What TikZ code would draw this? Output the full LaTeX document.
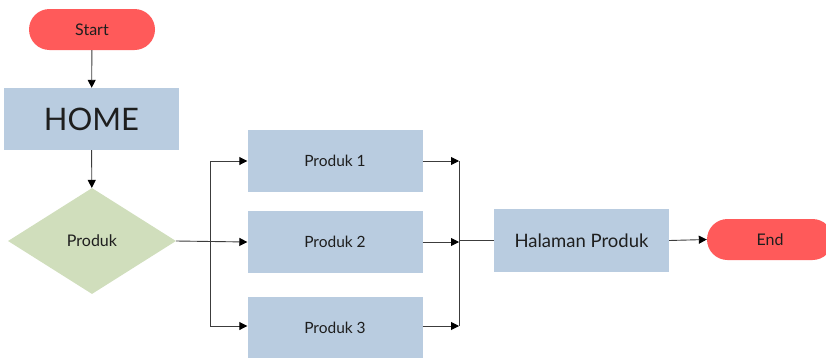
\documentclass[tikz,border=0pt]{standalone}
\usepackage{fontspec}
\setmainfont{Lato}
\usetikzlibrary{arrows.meta,shapes.geometric}
\definecolor{pillred}{RGB}{255,90,90}
\definecolor{boxblue}{RGB}{185,204,224}
\definecolor{diagreen}{RGB}{208,222,188}
\definecolor{txt}{RGB}{30,30,30}
\definecolor{ln}{RGB}{60,60,60}
\begin{document}
\begin{tikzpicture}[x=1pt,y=-1pt,
  pill/.style={fill=pillred,rounded corners=20.5pt,minimum width=126pt,minimum height=41pt,inner sep=0pt,text=txt,font=\fontsize{16}{18}\selectfont},
  boxx/.style={fill=boxblue,minimum width=175pt,minimum height=62pt,inner sep=0pt,text=txt,font=\fontsize{15.5}{18}\selectfont},
  dia/.style={diamond,fill=diagreen,minimum width=168pt,minimum height=106pt,inner sep=0pt,text=txt,font=\fontsize{16}{18}\selectfont},
  conn/.style={draw=ln,line width=0.9pt},
  arr/.style={conn,-{Triangle[length=8pt,width=8pt,color=black]}}]
\useasboundingbox (0,0) rectangle (826,359);
\node[pill] (start) at (92,29.5) {Start};
\node[boxx,font=\fontsize{31}{34}\selectfont] (home) at (91.5,119) {HOME};
\node[dia] (prod) at (92,241) {Produk};
\node[boxx] (p1) at (335,161) {Produk 1};
\node[boxx] (p2) at (335,242) {Produk 2};
\node[boxx,minimum height=61pt] (p3) at (335,327.5) {Produk 3};
\node[boxx,minimum height=63pt,font=\fontsize{18.5}{20}\selectfont] (hal) at (581.5,240.5) {Halaman Produk};
\node[pill] (end) at (770,239.5) {End};
\coordinate (s1) at (210,161);
\coordinate (s3) at (210,326);
\coordinate (m1) at (459,161);
\coordinate (m3) at (459,326);
\draw[arr] (start) -- (home);
\draw[arr] (home) -- (prod);
\draw[arr] (prod.east) -- (p2.west);
\draw[conn] (s1) -- (s3);
\draw[arr] (s1) -- (p1.west);
\draw[arr] (s3) -- (p3.west |- s3);
\draw[arr] (p1.east) -- (m1);
\draw[arr] (p2.east) -- (p2.east -| m1);
\draw[arr] (p3.east |- m3) -- (m3);
\draw[conn] (m1) -- (m3);
\draw[conn] (hal.west -| m1) -- (hal.west);
\draw[arr] (hal.east) -- (end.west);
\end{tikzpicture}
\end{document}
